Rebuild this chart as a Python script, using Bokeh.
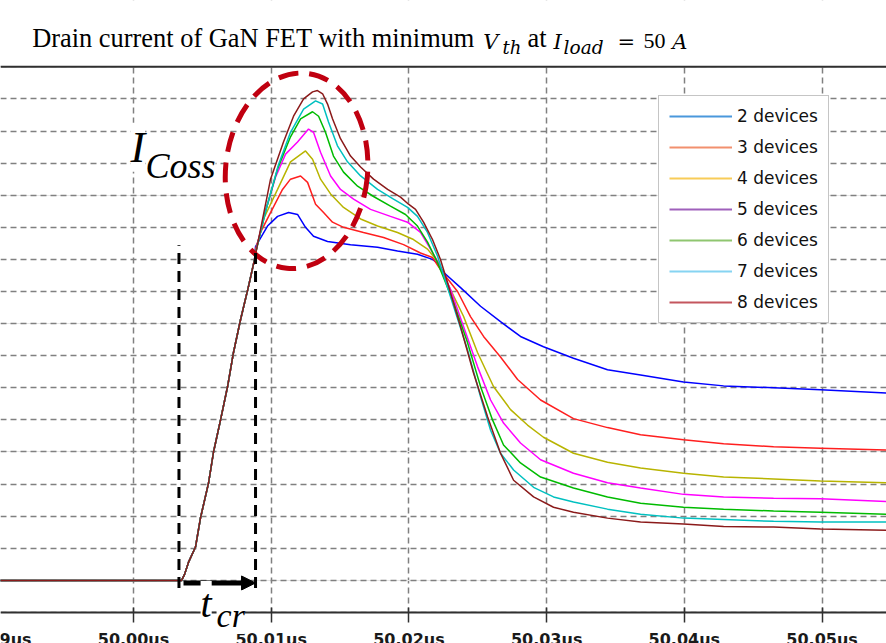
import numpy as np
from bokeh.plotting import figure
from bokeh.models import (Range1d, FixedTicker, CustomJSTickFormatter, Grid, Span, Label,
                          Legend, LegendItem, Arrow, NormalHead, BoxAnnotation)
from bokeh.embed import file_html
from bokeh.resources import INLINE

# ---- data: time in ns after 50.00 us, drain current in A ----
x_ticks = [-10, 0, 10, 20, 30, 40, 50]
x_tick_labels = ["49.99us", "50.00us", "50.01us", "50.02us", "50.03us", "50.04us", "50.05us"]
y_grid = [-5, 0, 5, 10, 15, 20, 25, 30, 35, 40, 45, 50, 55, 60, 65, 70, 75, 80]

rise_t = [-10.0, 3.49, 3.70, 3.99, 4.50, 4.87, 5.45, 5.81, 6.32, 6.83, 7.26, 7.77, 8.35, 8.79]
rise_i = [0.0, 0.0, 0.9, 2.8, 5.2, 9.8, 15.2, 20.0, 25.0, 30.2, 35.5, 40.6, 45.8, 50.0]

t2 = [8.86, 9.73, 10.46, 11.26, 11.91, 12.49, 13.07, 14.09, 15.76, 17.72, 19.17, 20.62, 21.71, 22.08,
      22.51, 23.75, 25.20, 26.65, 28.10, 29.77, 31.95, 34.42, 36.82, 39.94, 42.85, 46.48, 49.89, 54.68]
i2 = [52.0, 55.2, 56.7, 57.3, 57.0, 55.0, 53.6, 52.8, 52.3, 51.9, 51.3, 50.8, 50.0, 49.4,
      48.0, 45.6, 42.7, 40.3, 38.0, 36.4, 34.6, 32.8, 32.0, 30.9, 30.3, 30.0, 29.7, 29.2]

t3 = [8.86, 9.22, 9.95, 10.82, 11.40, 12.13, 12.64, 13.22, 13.80, 14.45, 15.25, 16.70, 18.16, 19.61,
      20.84, 21.71, 22.29, 23.53, 24.47, 25.42, 26.65, 27.89, 29.56, 31.95, 34.42, 36.82, 39.94,
      42.85, 46.48, 49.89, 54.68]
i3 = [51.6, 54.2, 57.3, 60.9, 62.5, 63.0, 62.0, 58.6, 57.3, 55.8, 55.0, 54.2, 53.4, 52.3,
      51.0, 50.3, 48.4, 45.0, 41.1, 38.0, 34.8, 31.3, 28.1, 25.2, 23.8, 22.7, 21.9,
      21.3, 20.8, 20.6, 20.3]

t4 = [8.86, 9.44, 10.46, 11.40, 12.49, 13.00, 13.58, 14.31, 15.25, 16.49, 17.72, 19.17, 20.33, 21.35,
      22.08, 23.02, 23.97, 24.98, 26.14, 27.38, 28.61, 29.77, 31.95, 34.42, 36.82, 39.94, 42.85,
      46.48, 49.89, 54.68]
i4 = [51.0, 56.3, 60.9, 65.2, 66.9, 65.6, 62.5, 60.2, 58.1, 56.3, 55.2, 54.2, 53.1, 51.6,
      49.7, 45.3, 41.1, 35.5, 30.2, 26.6, 24.2, 22.3, 19.8, 18.4, 17.5, 16.7, 16.1,
      15.8, 15.5, 15.2]

t5 = [8.86, 9.44, 10.31, 11.04, 11.91, 12.71, 13.07, 13.58, 14.31, 15.03, 15.98, 17.21, 18.66, 19.90,
      20.84, 21.57, 22.08, 23.02, 23.97, 24.98, 25.93, 26.87, 28.10, 29.56, 31.95, 34.42, 36.82,
      39.94, 42.85, 46.48, 49.89, 54.68]
i5 = [51.0, 56.5, 62.8, 66.4, 68.3, 70.3, 69.8, 66.7, 63.0, 60.9, 59.4, 57.8, 56.7, 55.8,
      54.2, 51.6, 49.7, 45.3, 39.5, 33.3, 28.1, 24.5, 21.4, 18.8, 16.7, 15.2, 14.4,
      13.4, 13.0, 12.8, 12.7, 12.3]

t6 = [8.86, 9.59, 10.46, 11.40, 12.13, 13.00, 13.44, 13.94, 14.52, 15.25, 16.27, 17.43, 18.66, 19.75,
      20.62, 21.35, 22.08, 23.24, 24.26, 25.20, 26.07, 26.87, 28.10, 29.56, 31.95, 34.42, 36.82,
      39.94, 42.85, 46.48, 49.89, 54.68]
i6 = [51.0, 57.5, 64.1, 69.1, 71.9, 73.0, 72.3, 69.8, 66.1, 63.6, 61.4, 59.8, 58.3, 57.0,
      55.2, 52.7, 49.5, 43.3, 37.0, 30.2, 25.0, 21.1, 18.3, 16.1, 14.4, 13.0, 12.0,
      11.4, 11.1, 10.8, 10.6, 10.3]

t7 = [8.86, 9.59, 10.53, 11.40, 12.35, 13.22, 13.73, 14.16, 14.81, 15.54, 16.49, 17.72, 18.88, 19.90,
      20.62, 21.35, 22.08, 23.24, 24.26, 25.20, 25.93, 26.65, 27.60, 29.05, 30.50, 31.95, 34.42,
      36.82, 39.94, 42.85, 46.48, 49.89, 54.68]
i7 = [51.0, 57.5, 64.8, 69.8, 73.4, 74.7, 74.2, 71.4, 67.7, 65.2, 63.0, 60.9, 59.4, 58.1,
      56.7, 54.2, 50.5, 42.7, 35.9, 28.6, 23.4, 19.8, 17.2, 14.5, 13.0, 12.2, 11.1,
      10.3, 9.7, 9.5, 9.2, 9.1, 9.1]

t8 = [8.79, 9.95, 10.89, 11.62, 12.35, 13.00, 13.36, 13.73, 14.09, 14.45, 15.03, 15.76, 16.49, 17.43,
      18.45, 19.39, 19.97, 20.48, 21.06, 21.71, 22.29, 22.80, 23.75, 24.69, 25.71, 26.65, 27.60,
      29.05, 30.50, 31.95, 34.42, 36.82, 39.94, 42.85, 46.48, 49.89, 54.68]
i8 = [50.0, 62.5, 68.3, 72.3, 75.0, 76.1, 76.3, 75.8, 74.2, 71.9, 68.8, 66.1, 64.4, 62.5,
      60.9, 59.7, 58.6, 57.8, 55.8, 53.1, 50.0, 46.4, 39.5, 32.3, 25.5, 19.8, 15.6,
      13.0, 11.4, 10.6, 9.7, 9.1, 8.8, 8.4, 8.3, 8.0, 7.8]

series_names = ["2 devices", "3 devices", "4 devices", "5 devices", "6 devices", "7 devices", "8 devices"]
series_t = [t2, t3, t4, t5, t6, t7, t8]
series_i = [i2, i3, i4, i5, i6, i7, i8]

line_colors = ["#0000ff", "#ff1f1f", "#b8b400", "#ff00ff", "#00bb00", "#00c0c0", "#8b1a1a"]
legend_colors = ["#4a98dc", "#f2906e", "#f8cc58", "#9f60bb", "#8fc670", "#86d4f2", "#c4565e"]

# ---- figure (frame fills the canvas; x axis drawn at y = -5) ----
X0, X1 = -9.66, 54.68
Y0, Y1 = -9.83, 90.33
YB, YT = -5, 80

p = figure(width=886, height=643, x_range=Range1d(X0, X1), y_range=Range1d(Y0, Y1),
           output_backend="svg", toolbar_location=None, y_axis_location=None,
           min_border=0, min_border_left=0, min_border_right=0, min_border_top=0,
           min_border_bottom=0, outline_line_color=None,
           background_fill_color="white", border_fill_color="white")

p.xaxis.fixed_location = YB
p.xaxis.ticker = FixedTicker(ticks=x_ticks)
p.xaxis.formatter = CustomJSTickFormatter(
    args=dict(xt=x_ticks, xl=x_tick_labels),
    code="const k = xt.indexOf(tick); return k >= 0 ? xl[k] : '';")
p.xaxis.axis_line_width = 2
p.xaxis.axis_line_color = "#303030"
p.xaxis.major_tick_line_color = "#303030"
p.xaxis.major_tick_line_width = 1.5
p.xaxis.major_tick_in = 5
p.xaxis.major_tick_out = 10
p.xaxis.minor_tick_line_color = None
p.xaxis.major_label_standoff = 8
p.xaxis.major_label_text_font = "DejaVu Sans"
p.xaxis.major_label_text_font_style = "bold"
p.xaxis.major_label_text_font_size = "16px"
p.xaxis.major_label_text_color = "#1a1a1a"

p.xgrid.grid_line_color = "#808080"
p.xgrid.grid_line_dash = "6 4"
p.xgrid.grid_line_width = 1.5

ygrid = Grid(dimension=1, ticker=FixedTicker(ticks=y_grid), grid_line_color="#808080",
             grid_line_dash="6 4", grid_line_width=1.5)
p.add_layout(ygrid)

# white masks above the top border and below the axis (hide grid there)
p.add_layout(BoxAnnotation(left=X0, right=X1, bottom=YT, top=Y1, fill_color="white",
                           fill_alpha=1, line_color=None, level="underlay"))
p.add_layout(BoxAnnotation(left=X0, right=X1, bottom=Y0, top=YB, fill_color="white",
                           fill_alpha=1, line_color=None, level="underlay"))

p.add_layout(Span(location=YT, dimension="width", line_color="#303030", line_width=2))

# ---- curves ----
for t, cur, col in zip(series_t, series_i, line_colors):
    p.line(x=rise_t + t, y=rise_i + cur, line_color=col, line_width=1.5)

# ---- legend (lighter legend colours as in the original) ----
items = []
for name, col in zip(series_names, legend_colors):
    r = p.line(x=np.array([np.nan, np.nan]), y=np.array([np.nan, np.nan]),
               line_color=col, line_width=2)
    items.append(LegendItem(label=name, renderers=[r]))
legend = Legend(items=items, location=(658, 320), padding=10, spacing=11, margin=0,
                glyph_width=63, glyph_height=20, label_height=20, label_standoff=5,
                label_text_font="DejaVu Sans", label_text_font_size="17px",
                label_text_color="#111111",
                border_line_color="#8c8c8c", border_line_width=1.5,
                background_fill_color="white", background_fill_alpha=1.0)
p.add_layout(legend)

# ---- annotations ----
p.ellipse(x=[11.84], y=[63.8], width=[142], height=[196], angle=-0.1,
          width_units="screen", height_units="screen", fill_color=None,
          line_color="#c00010", line_width=5, line_dash="20 11")

p.segment(x0=[3.30, 8.86], y0=[-1.2, -1.2], x1=[3.30, 8.86], y1=[52.2, 51.0],
          line_color="black", line_width=3, line_dash="11 7")

p.add_layout(Arrow(x_start=3.63, y_start=-0.4, x_end=8.86, y_end=-0.4, line_width=5,
                   line_color="black",
                   end=NormalHead(size=14, fill_color="black", line_color="black")))

SERIF = "Liberation Serif"
MATH = "DejaVu Serif"

def lab(x, y, text, size, style="normal", bg=None, font=SERIF, align="left"):
    p.add_layout(Label(x=x, y=y, text=text, text_font=font, text_font_size=size,
                       text_font_style=style, text_baseline="alphabetic", text_color="black",
                       text_align=align, background_fill_color=bg))

lab(-0.22, 67.49, "I", "44px", "italic", "white")
lab(0.87, 64.56, "Coss", "36px", "italic", "white")
lab(4.87, -3.60, "t", "40px", "italic", "white")
lab(6.03, -5.48, "cr", "34px", "italic", "white")

# first tick label sits just outside the visible range; only its tail shows at the edge
p.add_layout(Label(x=x_ticks[0], y=-9.27, text=x_tick_labels[0], text_font="DejaVu Sans",
                   text_font_size="16px", text_font_style="bold", text_color="#1a1a1a",
                   text_align="center", text_baseline="alphabetic"))

# title composed of plain and math-italic pieces
lab(-7.36, 84.42, "Drain current of GaN FET with minimum", "26.4px")
lab(25.40, 83.90, "V", "21px", "italic", font=MATH)
lab(26.80, 83.05, "th", "18px", "italic", font=MATH)
lab(28.61, 84.42, "at", "26.4px")
lab(30.50, 83.90, "I", "21px", "italic", font=MATH)
lab(31.23, 83.05, "load", "18.5px", "italic", font=MATH)
lab(35.15, 83.90, "=", "21px", font=MATH)
lab(37.04, 84.05, "50", "22px")
lab(39.13, 83.90, "A", "21px", "italic", font=MATH)

open("out.html", "w").write(file_html(p, INLINE))
